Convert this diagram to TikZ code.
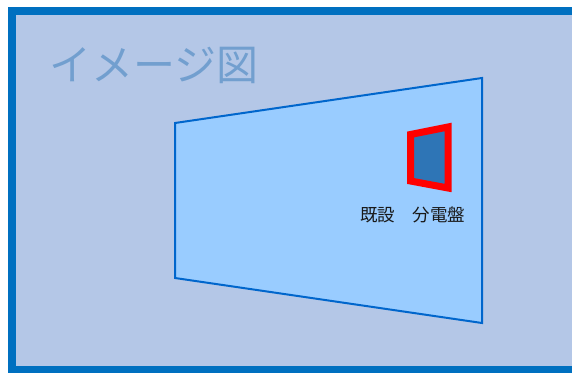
\documentclass[tikz,border=0pt]{standalone}
\usepackage{fontspec}
\newfontfamily\jpfont{Noto Sans CJK JP}
\definecolor{framefill}{HTML}{B4C7E7}
\definecolor{framedraw}{HTML}{0070C0}
\definecolor{wallfill}{HTML}{99CCFF}
\definecolor{walldraw}{HTML}{0066CC}
\definecolor{panelfill}{HTML}{2E75B6}
\definecolor{titlecol}{HTML}{729FCF}
\tikzset{
  frame/.style = {fill=framefill, draw=framedraw, line width=8pt},
  wall/.style = {fill=wallfill, draw=walldraw, line width=2pt,
    line join=miter},% the wall in perspective
  panel/.style = {fill=panelfill, draw=red, line width=7pt,
    line join=miter},% existing distribution board
  titletxt/.style = {font=\jpfont\fontsize{42}{44}\selectfont,
    text=titlecol, inner sep=0pt},
  labeltxt/.style = {font=\jpfont\fontsize{17.5}{19}\selectfont,
    text=black!90, inner sep=0pt},
}
\begin{document}
\begin{tikzpicture}[x=1pt,y=-1pt]
\useasboundingbox (0,0) rectangle (572,372);
\clip (0,0) rectangle (572,372);
\fill[white] (0,0) rectangle (572,372);
\draw[frame] (12,11) rectangle (590,370);
\node[titletxt] (title) at (154,65) {イメージ図};
\draw[wall] (175,123) -- (482,78) -- (482,323) -- (175,278) -- cycle;
\draw[panel] (410.5,134.5) -- (448,127) -- (448,188) -- (410.5,181) -- cycle;
\node[labeltxt] (board) at (412.5,215) {既設　分電盤};
\end{tikzpicture}
\end{document}
